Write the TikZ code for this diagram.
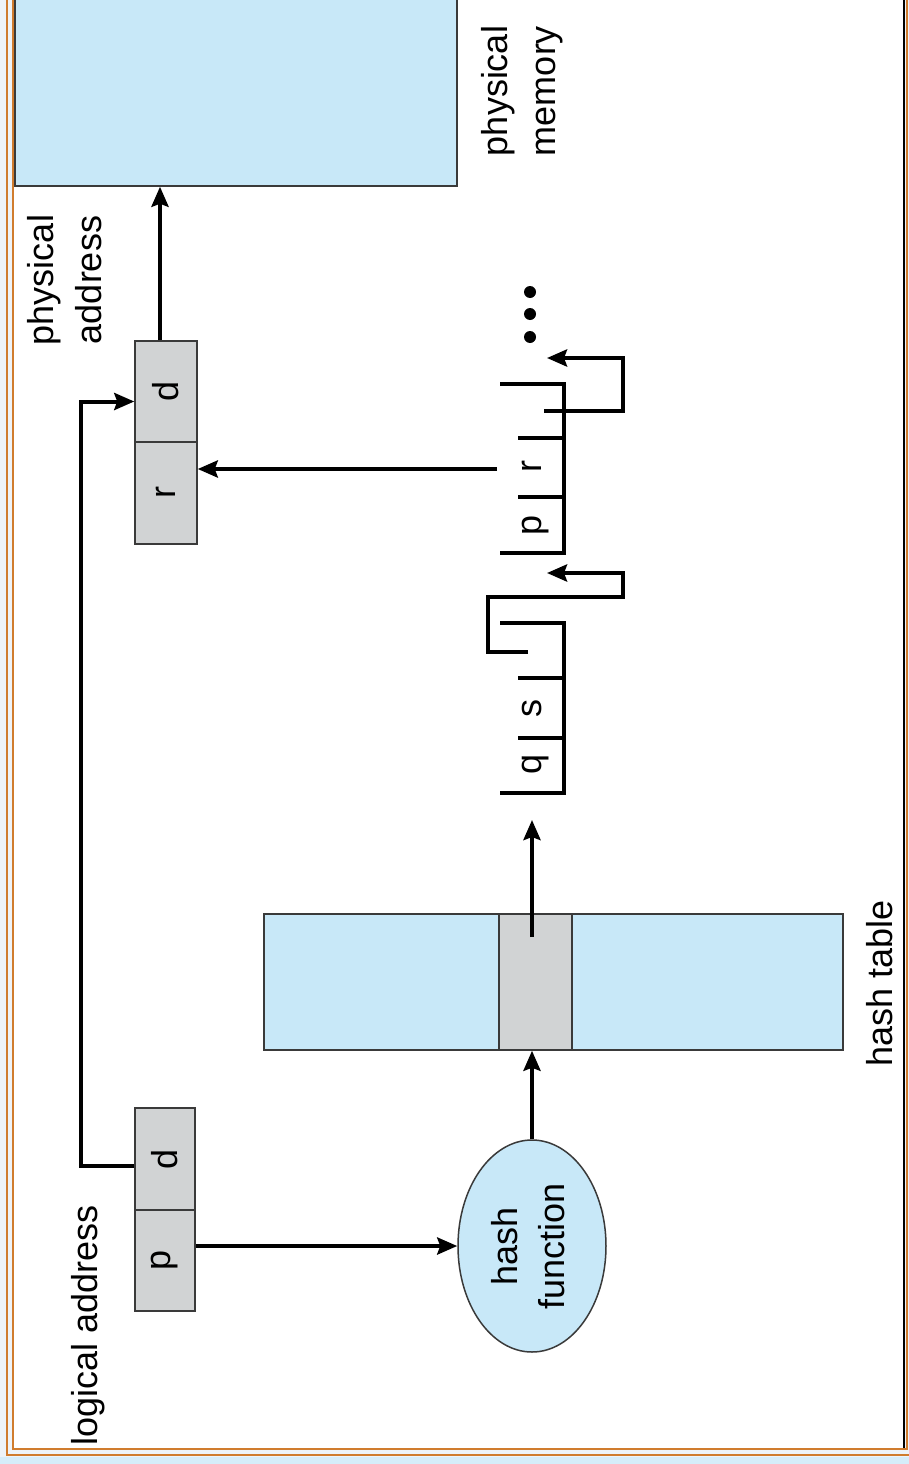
\documentclass[tikz,border=0pt]{standalone}
\usepackage{fontspec}
\setmainfont{Liberation Sans}
\usetikzlibrary{arrows.meta,shapes.geometric}
\definecolor{lblue}{HTML}{C8E8F8}
\definecolor{cgray}{HTML}{D1D3D4}
\definecolor{bord}{HTML}{3A3A3A}
\definecolor{orng}{HTML}{D07C2E}
\definecolor{pagebg}{HTML}{EEF3F8}
\definecolor{bottombg}{HTML}{D6EDFA}
\begin{document}
\begin{tikzpicture}[x=1pt,y=-1pt,
  lbl/.style={rotate=90, font=\fontsize{36}{48}\selectfont, align=center, inner sep=0pt},
  cell/.style={draw=bord, line width=1.5pt, fill=cgray, inner sep=0pt, font=\fontsize{36}{48}\selectfont},
  bluebox/.style={draw=bord, line width=1.5pt, fill=lblue, inner sep=0pt},
  arr/.style={line width=4pt, -{Stealth[length=20pt,width=17pt,inset=3pt]}},
  ln/.style={line width=4pt},
  frame/.style={orng, line width=2.5pt}
]
\useasboundingbox (0,0) rectangle (909,1464);
% page background
\fill[pagebg] (0,0) rectangle (909,1464);
\fill[bottombg] (0,1457) rectangle (909,1464);
\fill[white] (13,0) rectangle (905,1449);

% physical memory
\node[bluebox, minimum width=442pt, minimum height=200pt] (mem) at (236,86) {};
\node[lbl] (tpm) at (522,91) {physical\\memory};
\node[lbl] (tpa) at (65,280) {physical\\address};

% physical address box
\node[cell, minimum width=62pt, minimum height=101pt] (pd) at (166,391.5) {\rotatebox{90}{d}};
\node[cell, minimum width=62pt, minimum height=102pt] (pr) at (166,493) {\rotatebox{90}{r}};

% logical address box
\node[cell, minimum width=60pt, minimum height=102pt] (ld) at (165,1159) {\rotatebox{90}{d}};
\node[cell, minimum width=60pt, minimum height=101pt] (lp) at (165,1260.5) {\rotatebox{90}{p}};
\node[lbl] (tla) at (88,1325) {logical address};

% hash table
\node[bluebox, minimum width=579pt, minimum height=136pt] (ht) at (553.5,982) {};
\node[cell, minimum width=73pt, minimum height=136pt] (hc) at (535.5,982) {};
\node[lbl] (tht) at (880,983) {hash table};

% hash function
\node[ellipse, bluebox, minimum width=148pt, minimum height=212pt,
      font=\fontsize{36}{47}\selectfont] (hf) at (532,1246)
  {\rotatebox{90}{\begin{tabular}{@{}c@{}}hash\\function\end{tabular}}};

% linked list entry 1 (q, s)
\draw[ln] (500,623) -- (564,623) -- (564,793) -- (500,793);
\draw[ln] (518,678) -- (564,678);
\draw[ln] (518,738) -- (564,738);
\node[lbl, anchor=base] (eq) at (541,764) {q};
\node[lbl, anchor=base] (es) at (541,708) {s};
\draw[arr] (528,652) -- (488,652) -- (488,597) -- (623,597) -- (623,573) -- (547,573);

% linked list entry 2 (p, r)
\draw[ln] (500,384) -- (564,384) -- (564,553) -- (500,553);
\draw[ln] (518,438) -- (564,438);
\draw[ln] (518,497) -- (564,497);
\node[lbl, anchor=base] (ep) at (541,525) {p};
\node[lbl, anchor=base] (er) at (541,467) {r};
\draw[arr] (544,411) -- (623,411) -- (623,358) -- (547,358);

% dots
\fill (530,292) circle (6pt);
\fill (530,314) circle (6pt);
\fill (530,337) circle (6pt);

% connectors
\coordinate (rsrc) at (497,469);
\draw[arr] (rsrc) -- (rsrc -| pr.east);
\draw[arr] ([xshift=-6pt]pd.north) -- ([xshift=-6pt]pd.north |- mem.south);
\draw[arr] ([yshift=-7pt]ld.west) -- ++(-53,0) |- ([yshift=-10pt]pd.west);
\draw[arr] (lp.east |- hf.west) -- (hf.west);
\draw[arr] (hf.north) -- (hf.north |- ht.south);
\coordinate (hstart) at (532,937);
\coordinate (lhead) at (532,820);
\draw[arr] (hstart) -- (lhead);

% frame
\draw[frame] (7,-5) -- (7,1455) -- (915,1455);
\draw[frame] (13,-5) -- (13,1449) -- (907,1449) -- (907,-5);
\draw[black, line width=2pt] (904,-5) -- (904,1448);
\end{tikzpicture}
\end{document}
